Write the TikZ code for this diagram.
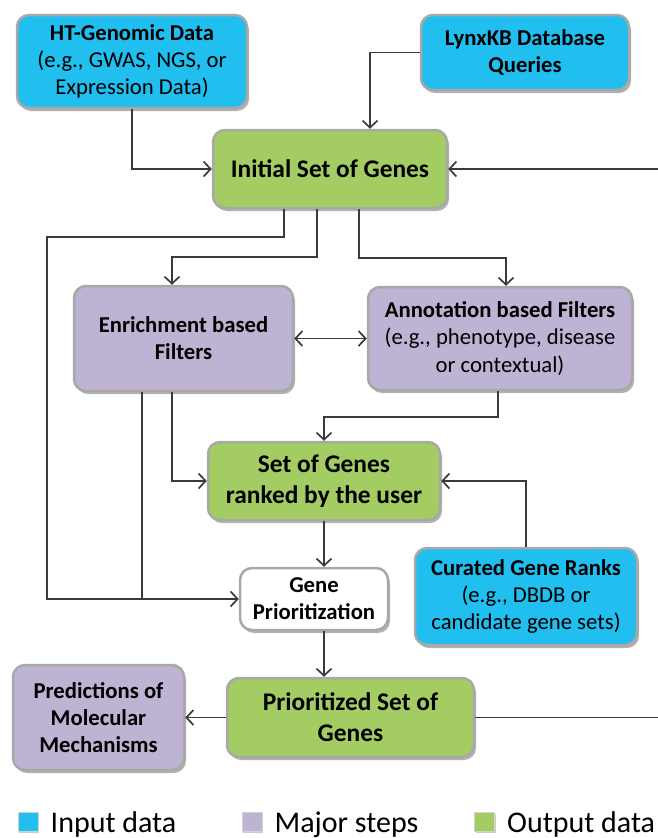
\documentclass[tikz,border=0pt]{standalone}
\usepackage{fontspec}
\setmainfont{Carlito}
\usepackage{tikz}
\usetikzlibrary{positioning,calc,shadows,arrows.meta}
\definecolor{inputBlue}{HTML}{21BEF0}
\definecolor{stepPurple}{HTML}{BFB3D4}
\definecolor{outputGreen}{HTML}{A3CD63}
\definecolor{boxGray}{HTML}{A8A8A8}
\definecolor{lineGray}{HTML}{3A3A3A}
\newcommand{\boxFont}{\fontsize{22.7}{27.2}\selectfont}
\newcommand{\bigFont}{\fontsize{25.4}{31}\selectfont\bfseries}
\newcommand{\legendFont}{\fontsize{30}{36}\selectfont}
\newcommand{\legendEntry}[4]{\node[legendSq, fill=#2] (sq#1) at (#3,822) {};
	\node[anchor=base west, inner sep=0pt] (lab#1) at ($(sq#1.east)+(12,10)$) {\legendFont #4};}

\begin{document}
\begin{tikzpicture}[x=1pt, y=-1pt, >={Straight Barb[length=7pt,width=15pt]},
	every text node part/.style={align=center},
	flowBox/.style={rounded corners=12pt, draw=boxGray, line width=2.5pt, inner sep=0pt,
		drop shadow={shadow xshift=2pt, shadow yshift=-3pt, fill=black, opacity=.3}},
	inBox/.style={flowBox, fill=inputBlue, font=\boxFont},
	stepBox/.style={flowBox, fill=stepPurple, font=\boxFont},
	outBox/.style={flowBox, fill=outputGreen, font=\bigFont},
	link/.style={draw=lineGray, line width=1.7pt},
	legendSq/.style={draw=boxGray!50, line width=1pt, minimum width=20pt, minimum height=19pt, inner sep=0pt,
		drop shadow={shadow xshift=1pt, shadow yshift=-1pt, fill=black, opacity=.2}}]
	\useasboundingbox (0,0) rectangle (657,838);

	% input data
	\node[inBox, minimum width=230pt, minimum height=93pt] (hT) at (132,61.5)
		{\textbf{HT-Genomic Data}\\(e.g., GWAS, NGS, or\\Expression Data)};
	\node[inBox, minimum width=208pt, minimum height=75pt] (lynx) at (525,52.5)
		{\textbf{LynxKB Database}\\\textbf{Queries}};
	\node[inBox, minimum width=222pt, minimum height=97pt] (curated) at (526,596.5)
		{\textbf{Curated Gene Ranks}\\(e.g., DBDB or\\candidate gene sets)};

	% major steps
	\node[stepBox, minimum width=219pt, minimum height=105pt] (enrich) at (183.5,338.5)
		{\textbf{Enrichment based}\\\textbf{Filters}};
	\node[stepBox, minimum width=264pt, minimum height=103pt] (annot) at (500,338.5)
		{\textbf{Annotation based Filters}\\(e.g., phenotype, disease\\or contextual)};
	\node[flowBox, fill=white, font=\boxFont\bfseries, minimum width=148pt, minimum height=62pt] (genePrio) at (314,599)
		{Gene\\Prioritization};
	\node[stepBox, font=\boxFont\bfseries, minimum width=171pt, minimum height=105pt] (predict) at (98.5,717.5)
		{Predictions of\\Molecular\\Mechanisms};

	% output data
	\node[outBox, minimum width=234pt, minimum height=78pt] (initial) at (330,169) {Initial Set of Genes};
	\node[outBox, minimum width=232pt, minimum height=78pt] (ranked) at (324,481) {Set of Genes\\ranked by the user};
	\node[outBox, minimum width=247pt, minimum height=79pt] (prioSet) at (350.5,717.5) {Prioritized Set of\\Genes};

	\coordinate (leftRail) at (47,0);
	\coordinate (rightRail) at (690,0);

	\draw[link,->] (hT.south) |- (initial.west);
	\draw[link,->] (lynx.west) -| ($(initial.north)+(40,0)$);
	\draw[link,->] (prioSet.east) -- (prioSet.east -| rightRail) |- (initial.east);
	\draw[link,->] ($(initial.south)+(-46,0)$) -- ++(0,28) -| (leftRail |- genePrio.west) -- (genePrio.west);
	\draw[link,->] ($(initial.south)+(-13,0)$) -- ++(0,48) -| ($(enrich.north)+(-11.5,0)$);
	\draw[link,->] ($(initial.south)+(29,0)$) -- ++(0,49) -| ($(annot.north)+(6,0)$);
	\draw[link,<->] (enrich.east) -- (annot.west);
	\draw[link] ($(enrich.south)+(-41.5,0)$) -- ($(enrich.south |- genePrio.west)+(-41.5,0)$);
	\draw[link,->] ($(enrich.south)+(-11.5,0)$) |- (ranked.west);
	\draw[link,->] ($(annot.south)+(-2,0)$) -- ++(0,26) -| (ranked.north);
	\draw[link,->] (curated.north) |- (ranked.east);
	\draw[link,->] (ranked.south) -- (ranked.south |- genePrio.north);
	\draw[link,->] (genePrio.south -| ranked.south) -- (prioSet.north -| ranked.south);
	\draw[link,->] (prioSet.west) -- (predict.east);

	% legend
	\legendEntry{In}{inputBlue}{28}{Input data}
	\legendEntry{Step}{stepPurple}{252}{Major steps}
	\legendEntry{Out}{outputGreen}{484.5}{Output data}
\end{tikzpicture}
\end{document}
